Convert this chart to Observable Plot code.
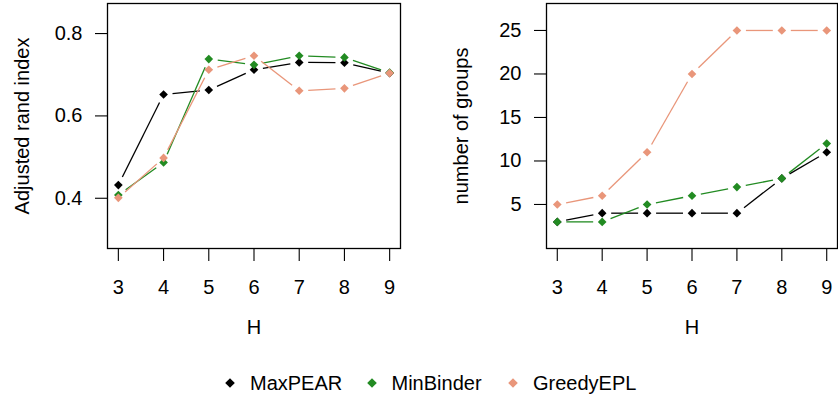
<!DOCTYPE html>
<html>
<head>
<meta charset="utf-8">
<script src="https://cdn.jsdelivr.net/npm/d3@7"></script>
<script src="https://cdn.jsdelivr.net/npm/@observablehq/plot@0.6"></script>
<style>
  body { margin: 0; background: #fff; font-family: "Liberation Sans", Arial, sans-serif; }
  #wrap { position: relative; width: 838px; height: 402px; overflow: hidden; background: #fff; }
  #left, #right { position: absolute; top: 0; }
  #left { left: 0; }
  #right { left: 419px; }
  #legend { position: absolute; top: 371px; left: 223px; display: flex; font-size: 20px; color: #000; }
  .item { width: 141.5px; display: flex; align-items: center; white-space: nowrap; height: 24px; }
  .item svg { margin-right: 13px; }
</style>
</head>
<body>
<div id="wrap">
  <div id="left"></div>
  <div id="right"></div>
  <div id="legend"></div>
</div>
<script>
const H = [3, 4, 5, 6, 7, 8, 9];
const seriesNames = ["MaxPEAR", "MinBinder", "GreedyEPL"];
const seriesColors = ["#000000", "#228B22", "#E9967A"];

// Adjusted rand index
const ariMaxPEAR   = [0.432, 0.652, 0.663, 0.712, 0.730, 0.729, 0.704];
const ariMinBinder = [0.408, 0.487, 0.738, 0.724, 0.746, 0.742, 0.705];
const ariGreedyEPL = [0.401, 0.498, 0.712, 0.746, 0.661, 0.667, 0.704];

// number of groups
const ngMaxPEAR   = [3, 4, 4, 4, 4, 8, 11];
const ngMinBinder = [3, 3, 5, 6, 7, 8, 12];
const ngGreedyEPL = [5, 6, 11, 20, 25, 25, 25];

const ariTicks = [0.4, 0.6, 0.8];
const ngTicks = [5, 10, 15, 20, 25];

function gapRender(gap) {
  return (index, scales, values, dims, ctx, next) => {
    const {x1, y1, x2, y2} = values;
    const X1 = [], Y1 = [], X2 = [], Y2 = [];
    for (const i of index) {
      const dx = x2[i] - x1[i], dy = y2[i] - y1[i];
      const L = Math.hypot(dx, dy);
      const t = L > 2 * gap ? gap / L : 0.5;
      X1[i] = x1[i] + dx * t; Y1[i] = y1[i] + dy * t;
      X2[i] = x2[i] - dx * t; Y2[i] = y2[i] - dy * t;
    }
    return next(index, scales, {...values, x1: X1, y1: Y1, x2: X2, y2: Y2}, dims, ctx);
  };
}

function seriesMarks(vals, color) {
  const pts = H.map((h, i) => ({x: h, y: vals[i]}));
  const segs = H.slice(0, -1).map((h, i) => ({x1: h, y1: vals[i], x2: H[i + 1], y2: vals[i + 1]}));
  return [
    Plot.link(segs, {x1: "x1", y1: "y1", x2: "x2", y2: "y2", stroke: color, strokeWidth: 1.3, render: gapRender(9)}),
    Plot.dot(pts, {x: "x", y: "y", symbol: "diamond2", fill: color, stroke: "none", r: 3.9})
  ];
}

function panel({series, yDomain, yTicks, yFormat, yLabel, marginLeft, marginRight}) {
  return Plot.plot({
    width: 419,
    height: 345,
    marginTop: 3,
    marginBottom: 97,
    marginLeft,
    marginRight,
    style: {fontFamily: "'Liberation Sans', Arial, sans-serif", fontSize: "20px", color: "#000", background: "#fff", overflow: "visible"},
    x: {domain: [2.76, 9.24]},
    y: {domain: yDomain},
    marks: [
      Plot.axisX({ticks: H, tickFormat: d3.format("d"), tickSize: 13, tickPadding: 18, label: null, stroke: "#000", strokeWidth: 1.1, fontSize: 20}),
      Plot.axisY({ticks: yTicks, tickFormat: yFormat, tickSize: 12, tickPadding: 13, label: null, stroke: "#000", strokeWidth: 1.1, fontSize: 20}),
      Plot.text([yLabel], {frameAnchor: "left", dx: -85, rotate: -90, textAnchor: "middle", lineAnchor: "middle", fontSize: 20, fill: "#000"}),
      Plot.text(["H"], {frameAnchor: "bottom", dy: 85, fontSize: 20, fill: "#000"}),
      ...series.flatMap((vals, k) => seriesMarks(vals, seriesColors[k])),
      Plot.frame({stroke: "#000", strokeWidth: 1.3})
    ]
  });
}

document.getElementById("left").append(panel({
  series: [ariMaxPEAR, ariMinBinder, ariGreedyEPL],
  yDomain: [0.278, 0.873],
  yTicks: ariTicks,
  yFormat: d3.format(".1f"),
  yLabel: "Adjusted rand index",
  marginLeft: 107,
  marginRight: 19
}));

document.getElementById("right").append(panel({
  series: [ngMaxPEAR, ngMinBinder, ngGreedyEPL],
  yDomain: [-0.06, 28.1],
  yTicks: ngTicks,
  yFormat: d3.format("d"),
  yLabel: "number of groups",
  marginLeft: 127,
  marginRight: 1
}));

const legend = document.getElementById("legend");
seriesNames.forEach((name, k) => {
  const item = document.createElement("div");
  item.className = "item";
  item.innerHTML = `<svg width="14" height="14" viewBox="-7 -7 14 14"><path d="M0,-4.8L4.8,0L0,4.8L-4.8,0Z" fill="${seriesColors[k]}"/></svg><span>${name}</span>`;
  legend.append(item);
});
</script>
</body>
</html>
